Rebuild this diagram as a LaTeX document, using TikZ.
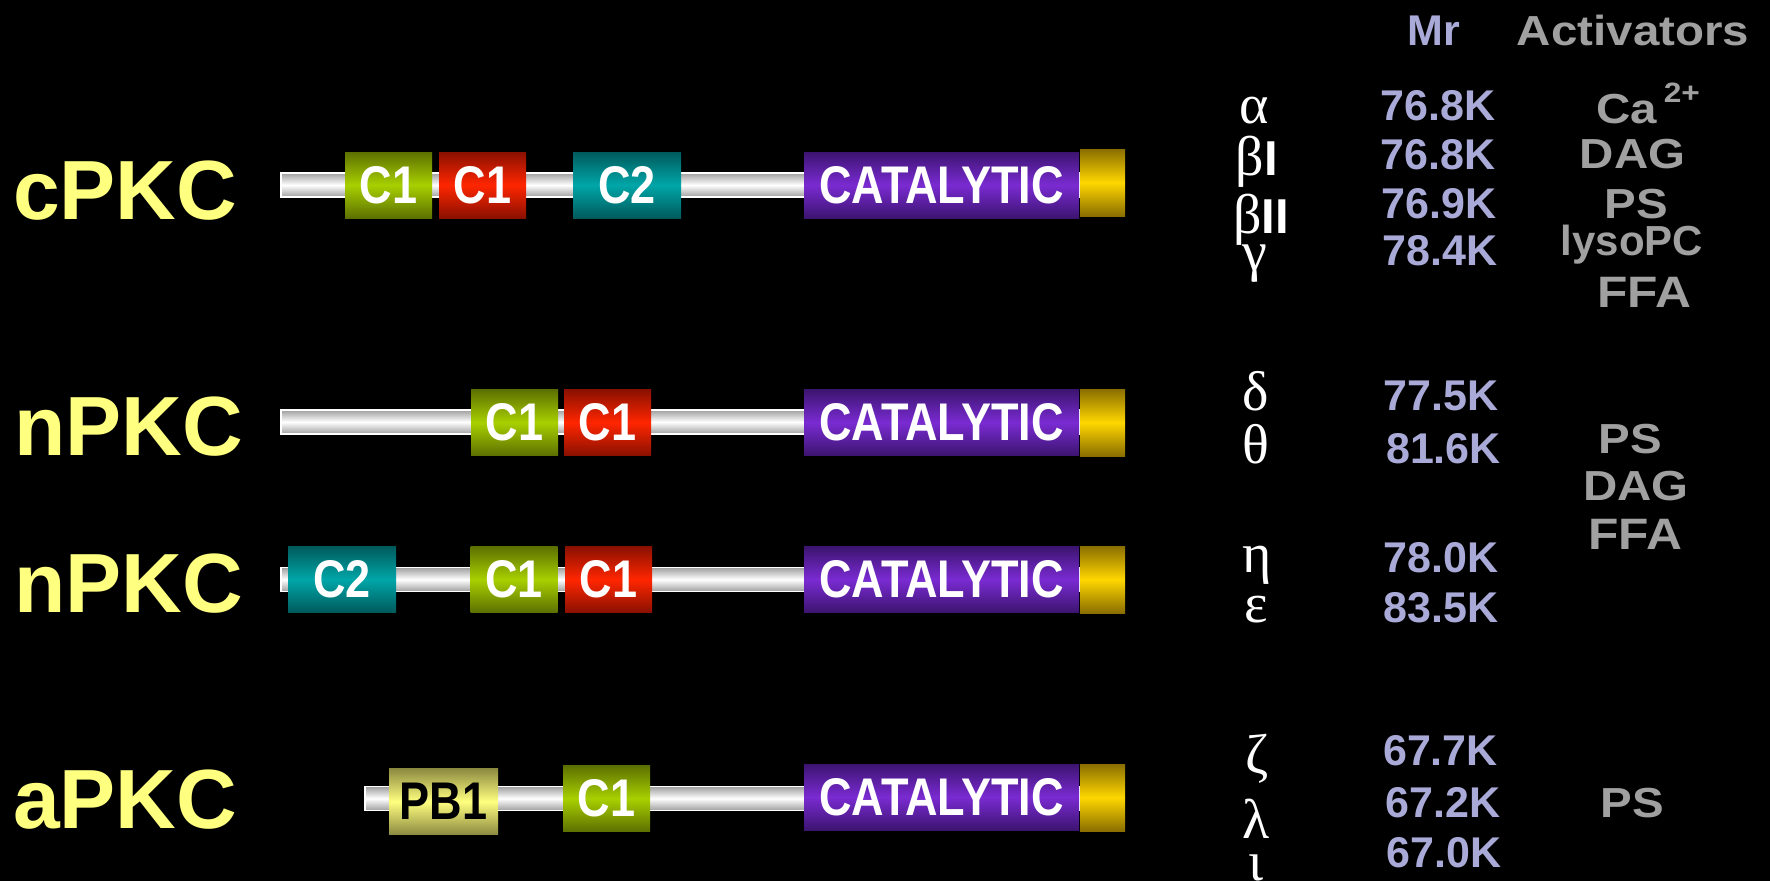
\documentclass[tikz,border=0pt]{standalone}
\usepackage{fontspec}
\setmainfont{Liberation Sans}
\newfontfamily\domfont{Liberation Sans}[FakeStretch=0.85]
\newfontfamily\actfont{Liberation Sans}[FakeStretch=1.13]
\newfontfamily\grkfont{Liberation Serif}
\newcommand\isoroman{\normalfont\bfseries\fontsize{49}{52}\selectfont}
\definecolor{labyel}{HTML}{FFFF80}
\definecolor{mrcol}{HTML}{AAAAD8}
\definecolor{actcol}{HTML}{A0A0A0}
\definecolor{grnB}{HTML}{A8D000}\definecolor{grnD}{HTML}{5C7000}
\definecolor{redB}{HTML}{FF2600}\definecolor{redD}{HTML}{8A1000}
\definecolor{tealB}{HTML}{00A6A8}\definecolor{tealD}{HTML}{005A5C}
\definecolor{purB}{HTML}{7A2BD2}\definecolor{purD}{HTML}{3C1470}
\definecolor{goldB}{HTML}{FFD700}\definecolor{goldD}{HTML}{8A6E00}
\definecolor{pbB}{HTML}{FFFF80}\definecolor{pbD}{HTML}{8C8A40}
\begin{document}
\begin{tikzpicture}[x=1pt,y=-1pt,
  bar/.style={draw=white, line width=1.6pt, inner sep=0, minimum height=24,
    top color=gray!75, bottom color=gray!75, middle color=white},
  dom/.style={inner sep=0, minimum height=66, text=white,
    font=\domfont\bfseries\fontsize{53}{60}\selectfont},
  c1g/.style={dom, minimum width=87, top color=grnD, bottom color=grnD, middle color=grnB},
  c1r/.style={dom, minimum width=87, top color=redD, bottom color=redD, middle color=redB},
  c2d/.style={dom, minimum width=108, top color=tealD, bottom color=tealD, middle color=tealB},
  catd/.style={dom, minimum width=275, top color=purD, bottom color=purD, middle color=purB},
  goldd/.style={dom, minimum width=45, minimum height=67, top color=goldD, bottom color=goldD, middle color=goldB},
  pbd/.style={dom, minimum width=109, text=black, top color=pbD, bottom color=pbD, middle color=pbB},
  rowlab/.style={anchor=base west, inner sep=0, text=labyel, font=\bfseries\fontsize{84}{90}\selectfont},
  grk/.style={anchor=base, inner sep=0, text=white, font=\grkfont\fontsize{56}{60}\selectfont},
  mr/.style={anchor=base, inner sep=0, text=mrcol, font=\bfseries\fontsize{43}{46}\selectfont},
  act/.style={anchor=base, inner sep=0, text=actcol, font=\actfont\bfseries\fontsize{42}{46}\selectfont},
  actbig/.style={act, font=\actfont\bfseries\fontsize{44}{48}\selectfont}
]
\useasboundingbox (0,0) rectangle (1770,881);
\fill[black] (0,0) rectangle (1770,881);

% ---------- row labels ----------
\node[rowlab] (lc) at (13,219) {cPKC};
\node[rowlab] (ln1) at (14,455) {nPKC};
\node[rowlab] (ln2) at (14,612) {nPKC};
\node[rowlab] (la) at (13,828) {aPKC};

% ---------- row 1: cPKC ----------
\node[bar, minimum width=799] (bar1) at (680.5,185) {};
\node[c1g] (r1c1a) at (388.5,185) {C1};
\node[c1r] (r1c1b) at (482.5,185) {C1};
\node[c2d] (r1c2) at (627,185) {C2};
\node[catd] (r1cat) at (941.5,185) {CATALYTIC};
\node[goldd] (r1end) at (1102.5,182.5) {};

% ---------- row 2: nPKC ----------
\node[bar, minimum width=799] (bar2) at (680.5,422) {};
\node[c1g] (r2c1a) at (514.5,422.5) {C1};
\node[c1r] (r2c1b) at (607.5,422.5) {C1};
\node[catd] (r2cat) at (941.5,422.5) {CATALYTIC};
\node[goldd] (r2end) at (1102.5,422.5) {};

% ---------- row 3: nPKC ----------
\node[bar, minimum width=799] (bar3) at (680.5,579.5) {};
\node[c2d] (r3c2) at (342,579.5) {C2};
\node[c1g] (r3c1a) at (514,579.5) {C1};
\node[c1r] (r3c1b) at (608.5,579.5) {C1};
\node[catd] (r3cat) at (941.5,579.5) {CATALYTIC};
\node[goldd] (r3end) at (1102.5,579.5) {};

% ---------- row 4: aPKC ----------
\node[bar, minimum width=715] (bar4) at (722.5,798.5) {};
\node[pbd] (r4pb) at (443.5,801.5) {PB1};
\node[c1g] (r4c1) at (606.5,798.5) {C1};
\node[catd] (r4cat) at (941.5,797) {CATALYTIC};
\node[goldd] (r4end) at (1102.5,797.5) {};

% ---------- headers ----------
\node[mr] (hmr) at (1434,45) {Mr};
\node[act] (hact) at (1633,45) {Activators};

% ---------- isoforms ----------
\node[grk] (g1) at (1254,123) {α};
\node[grk] (g2) at (1257,175) {β{\isoroman I}};
\node[grk] (g3) at (1261,233) {β{\isoroman II}};
\node[grk] (g4) at (1255,270) {γ};
\node[grk] (g5) at (1256,410) {δ};
\node[grk] (g6) at (1256,463) {θ};
\node[grk] (g7) at (1257,572) {η};
\node[grk] (g8) at (1256,622) {ε};
\node[grk] (g9) at (1257,773) {ζ};
\node[grk] (g10) at (1256,838) {λ};
\node[grk] (g11) at (1256,880) {ι};

% ---------- Mr ----------
\node[mr] (m1) at (1438,120) {76.8K};
\node[mr] (m2) at (1438,169) {76.8K};
\node[mr] (m3) at (1439,218) {76.9K};
\node[mr] (m4) at (1440,265) {78.4K};
\node[mr] (m5) at (1441,410) {77.5K};
\node[mr] (m6) at (1443.5,463) {81.6K};
\node[mr] (m7) at (1441,572) {78.0K};
\node[mr] (m8) at (1441,622) {83.5K};
\node[mr] (m9) at (1440.5,765) {67.7K};
\node[mr] (m10) at (1443,817) {67.2K};
\node[mr] (m11) at (1444,867) {67.0K};

% ---------- activators ----------
\node[act, anchor=base west] (a1) at (1596,123) {Ca\hspace{7pt}\raisebox{21pt}{\fontsize{28}{30}\selectfont 2+}};
\node[act] (a2) at (1632.5,168) {DAG};
\node[act] (a3) at (1636.5,218) {PS};
\node[act, font=\bfseries\fontsize{42}{46}\selectfont] (a4) at (1632,255) {lysoPC};
\node[actbig] (a5) at (1644.5,307) {FFA};
\node[act] (a6) at (1630,453) {PS};
\node[act] (a7) at (1636,500) {DAG};
\node[actbig] (a8) at (1635,549) {FFA};
\node[act] (a9) at (1632,817) {PS};
\end{tikzpicture}
\end{document}
